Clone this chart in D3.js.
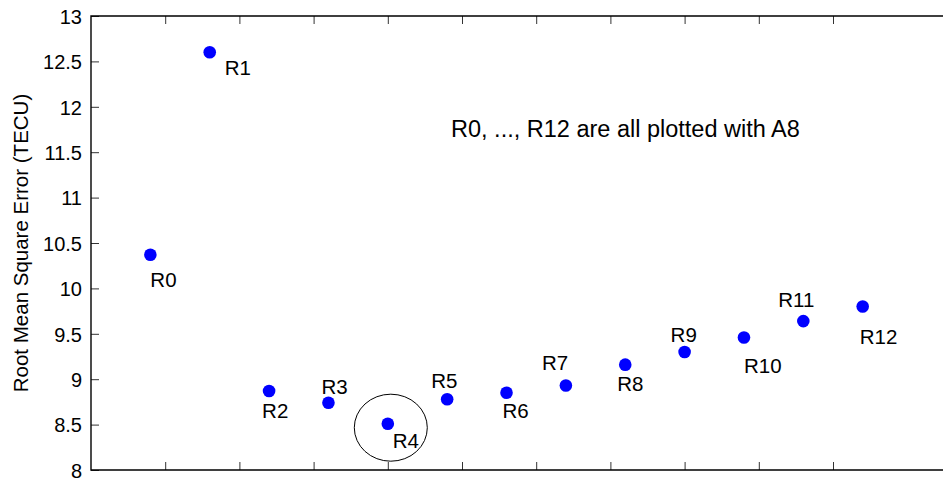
<!DOCTYPE html>
<html>
<head>
<meta charset="utf-8">
<script src="https://cdn.jsdelivr.net/npm/d3@7"></script>
<style>
  html, body { margin: 0; padding: 0; background: #fff; }
  svg text { font-family: "Liberation Sans", Arial, Helvetica, sans-serif; fill: #000; }
</style>
</head>
<body>
<svg id="chart" width="943" height="478"></svg>
<script>
// Run labels, their horizontal positions and RMSE values (TECU)
const runs = ["R0", "R1", "R2", "R3", "R4", "R5", "R6", "R7", "R8", "R9", "R10", "R11", "R12"];
const runX = [0.8, 1.6, 2.4, 3.2, 4.0, 4.8, 5.6, 6.4, 7.2, 8.0, 8.8, 9.6, 10.4];
const rmse = [10.37, 12.60, 8.87, 8.74, 8.51, 8.78, 8.85, 8.93, 9.16, 9.30, 9.46, 9.64, 9.80];
const yTicks = [8, 8.5, 9, 9.5, 10, 10.5, 11, 11.5, 12, 12.5, 13];
const xTicks = [1, 2, 3, 4, 5, 6, 7, 8, 9, 10];
const note = "R0, ..., R12 are all plotted with A8";
const highlightRun = "R4";

// label placement relative to each marker, in pixels [dx, dy of baseline]
const labelOffset = [
  [0, 32], [15, 23], [-7, 27], [-7, -9], [5, 24], [-16, -11], [-4, 25],
  [-24, -16], [-8, 26], [-14, -10], [0, 36], [-25, -14], [-3, 37]
];

const svg = d3.select("#chart");
const plotLeft = 91, plotTop = 16, plotBottom = 470;

const x = d3.scaleLinear().domain([0, 11.5]).range([plotLeft, plotLeft + 11.5 * 74.2]);
const y = d3.scaleLinear().domain([8, 13]).range([plotBottom, plotTop]);
const xEnd = x.range()[1];

// left axis with labels
const yAxis = d3.axisLeft(y).tickValues(yTicks).tickSize(-8).tickPadding(9)
  .tickFormat(d3.format("~g"));
const gy = svg.append("g").attr("transform", `translate(${plotLeft},0)`).call(yAxis);
gy.select(".domain").remove();
gy.selectAll(".tick line").attr("stroke", "#333").attr("stroke-width", 1);
gy.selectAll(".tick text").style("font-size", "20px").attr("dy", "0.36em");

// bottom and top tick marks (no labels)
const xb = d3.axisBottom(x).tickValues(xTicks).tickSize(-8).tickFormat("");
const gxb = svg.append("g").attr("transform", `translate(0,${plotBottom})`).call(xb);
gxb.select(".domain").remove();
gxb.selectAll(".tick line").attr("stroke", "#333");
const xt = d3.axisTop(x).tickValues(xTicks).tickSize(-8).tickFormat("");
const gxt = svg.append("g").attr("transform", `translate(0,${plotTop})`).call(xt);
gxt.select(".domain").remove();
gxt.selectAll(".tick line").attr("stroke", "#333");

// axis frame lines
svg.append("path")
  .attr("d", `M${xEnd},${plotTop}H${plotLeft}V${plotBottom}H${xEnd}`)
  .attr("fill", "none").attr("stroke", "#000").attr("stroke-width", 1.4);

// y axis title
svg.append("text")
  .attr("transform", `translate(28,243) rotate(-90)`)
  .attr("text-anchor", "middle")
  .style("font-size", "20.5px")
  .text("Root Mean Square Error (TECU)");

// markers
const pts = runs.map((r, i) => ({ name: r, x: runX[i], v: rmse[i], off: labelOffset[i] }));
svg.append("g").selectAll("circle").data(pts).join("circle")
  .attr("cx", d => x(d.x)).attr("cy", d => y(d.v)).attr("r", 6.3)
  .attr("fill", "#0000ff");

// run labels
svg.append("g").selectAll("text").data(pts).join("text")
  .attr("x", d => x(d.x) + d.off[0]).attr("y", d => y(d.v) + d.off[1])
  .style("font-size", "20.5px")
  .text(d => d.name);

// ellipse around the best run
const best = pts.find(d => d.name === highlightRun);
svg.append("ellipse")
  .attr("cx", x(best.x) + 3).attr("cy", y(best.v) + 4)
  .attr("rx", 36.5).attr("ry", 33.5)
  .attr("fill", "none").attr("stroke", "#000").attr("stroke-width", 1);

// annotation
svg.append("text")
  .attr("x", 451).attr("y", 137)
  .style("font-size", "23.5px")
  .text(note);
</script>
</body>
</html>
